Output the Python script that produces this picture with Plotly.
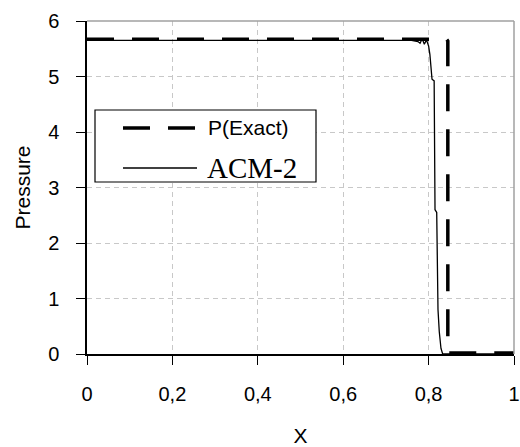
import plotly.graph_objects as go

# ---- data ----
exact_x = [0.0, 0.842, 0.845, 0.845, 1.0]
exact_y = [5.67, 5.67, 5.64, 0.02, 0.02]

acm_x = [0.0, 0.76, 0.775, 0.78, 0.785, 0.79, 0.795, 0.80, 0.803, 0.806, 0.808,
         0.813, 0.814, 0.815, 0.819, 0.820, 0.822, 0.825, 0.829, 0.833, 1.0]
acm_y = [5.65, 5.65, 5.63, 5.60, 5.68, 5.58, 5.66, 5.55, 5.40, 5.20, 4.95,
         4.92, 3.60, 2.60, 2.55, 1.50, 0.80, 0.40, 0.10, 0.0, 0.0]

x_ticks = [0, 0.2, 0.4, 0.6, 0.8, 1.0]
x_ticktext = ["0", "0,2", "0,4", "0,6", "0,8", "1"]
y_ticks = [0, 1, 2, 3, 4, 5, 6]
y_ticktext = ["0", "1", "2", "3", "4", "5", "6"]

legend_names = ["P(Exact)", "ACM-2"]

FONT = "Liberation Sans, Arial, sans-serif"
DASH = "27px,18px"

fig = go.Figure()
fig.add_trace(go.Scatter(x=acm_x, y=acm_y, mode="lines", name=legend_names[1],
                         line=dict(color="black", width=1.3), showlegend=False))
fig.add_trace(go.Scatter(x=exact_x, y=exact_y, mode="lines", name=legend_names[0],
                         line=dict(color="black", width=3.5, dash=DASH), showlegend=False))

W, H = 520, 447
L, R, T, B = 87, 6, 21, 93
pw, ph = W - L - R, H - T - B

def px(xp):
    return (xp - L) / pw

def py(yp):
    return (H - B - yp) / ph

axis_common = dict(
    showline=True, linecolor="black", linewidth=1.5,
    ticks="outside", ticklen=9, tickwidth=1.2, tickcolor="black",
    showgrid=True, gridcolor="#c8c8c8", gridwidth=1, griddash="5px,4px",
    zeroline=False, automargin=False, ticklabeloverflow="allow",
    tickfont=dict(family=FONT, size=20, color="black"),
)

fig.update_xaxes(range=[0, 1], tickvals=x_ticks, ticktext=x_ticktext,
                 ticklabelstandoff=12,
                 title=dict(text="X", font=dict(family=FONT, size=21, color="black"), standoff=31),
                 **axis_common)
fig.update_yaxes(range=[0, 6], tickvals=y_ticks, ticktext=y_ticktext,
                 ticklabelstandoff=13,
                 title=dict(text="Pressure", font=dict(family=FONT, size=21, color="black"), standoff=12),
                 **axis_common)

shapes = [
    # top and right frame (light gray)
    dict(type="line", xref="paper", yref="paper", x0=0, x1=1, y0=1, y1=1,
         line=dict(color="#a0a0a0", width=1.5)),
    dict(type="line", xref="paper", yref="paper", x0=1, x1=1, y0=0, y1=1,
         line=dict(color="#a0a0a0", width=1.5)),
    # legend box
    dict(type="rect", xref="paper", yref="paper", x0=px(95), x1=px(316), y0=py(182), y1=py(110),
         line=dict(color="black", width=1.2), fillcolor="white", layer="above"),
    dict(type="line", xref="paper", yref="paper", x0=px(123), x1=px(197), y0=py(128), y1=py(128),
         line=dict(color="black", width=3.5, dash=DASH), layer="above"),
    dict(type="line", xref="paper", yref="paper", x0=px(123), x1=px(197), y0=py(168), y1=py(168),
         line=dict(color="black", width=1.3), layer="above"),
]

annotations = [
    dict(text=legend_names[0], xref="paper", yref="paper", x=px(206), y=py(128),
         xanchor="left", yanchor="middle", showarrow=False,
         font=dict(family=FONT, size=21, color="black")),
    dict(text=legend_names[1], xref="paper", yref="paper", x=px(205), y=py(168),
         xanchor="left", yanchor="middle", showarrow=False,
         font=dict(family="Liberation Serif, Times New Roman, serif", size=29, color="black")),
]

fig.update_layout(
    width=W, height=H,
    margin=dict(l=L, r=R, t=T, b=B),
    paper_bgcolor="white", plot_bgcolor="white",
    shapes=shapes, annotations=annotations,
    showlegend=False,
)

fig.write_html("out.html", config={"displayModeBar": False},
               post_script="document.body.style.margin='0';document.body.style.overflow='hidden';")
